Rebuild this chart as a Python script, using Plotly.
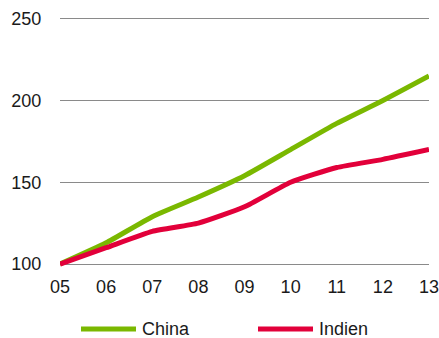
import plotly.graph_objects as go

years = ["05", "06", "07", "08", "09", "10", "11", "12", "13"]
china = [100, 113, 129, 141, 154, 170, 186, 200, 215]
indien = [100, 110, 120, 125, 135, 150, 159, 164, 170]
y_ticks = [100, 150, 200, 250]
series_names = ["China", "Indien"]

green = "#7AB800"
red = "#E2003A"
font = dict(family="Liberation Sans, Arial, sans-serif", size=18, color="#1a1a1a")

W, H = 439, 338
ML, MR, MT, MB = 60, 10, 17, 69
pw, ph = W - ML - MR, H - MT - MB

x = list(range(len(years)))
fig = go.Figure()
for name, vals, col in zip(series_names, [china, indien], [green, red]):
    fig.add_trace(go.Scatter(x=x, y=vals, name=name, mode="lines", showlegend=False,
                             line=dict(color=col, width=5, shape="spline", smoothing=0.5)))

# custom legend (pixel positions converted to paper coordinates)
def px_x(p):
    return (p - ML) / pw

def px_y(p):
    return (H - MB - p) / ph

leg_y = px_y(329)
for name, col, (x0, x1) in zip(series_names, [green, red], [(81, 136), (258, 313)]):
    fig.add_shape(type="line", xref="paper", yref="paper",
                  x0=px_x(x0), x1=px_x(x1), y0=leg_y, y1=leg_y,
                  line=dict(color=col, width=5))
    fig.add_annotation(xref="paper", yref="paper", x=px_x(x1 + 4), y=leg_y,
                       xanchor="left", yanchor="middle", text=name,
                       showarrow=False, font=font)

fig.update_layout(
    width=W, height=H,
    margin=dict(l=ML, r=MR, t=MT, b=MB, autoexpand=False),
    paper_bgcolor="white", plot_bgcolor="white",
    font=font,
    showlegend=False,
)
fig.update_xaxes(range=[0, 8], tickmode="array", tickvals=x, ticktext=years,
                 showgrid=False, zeroline=False, showline=False,
                 ticks="outside", ticklen=1, tickcolor="rgba(0,0,0,0)",
                 ticklabeloverflow="allow")
fig.update_yaxes(range=[97, 251], tickmode="array", tickvals=y_ticks,
                 showgrid=True, gridcolor="#8a8a8a", gridwidth=1,
                 zeroline=False, showline=False,
                 ticks="outside", ticklen=14, tickcolor="rgba(0,0,0,0)")

fig.write_html("out.html")
